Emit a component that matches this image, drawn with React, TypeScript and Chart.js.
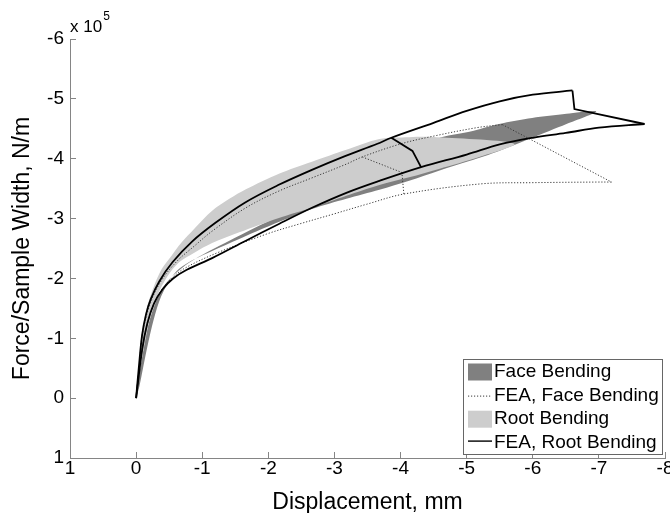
import { useEffect, useRef } from "react";
import { Chart, registerables } from "chart.js";

Chart.register(...registerables);

// ---------- axis / text content ----------
const xMin = -8;
const xMax = 1;
const yMin = -6;
const yMax = 1;
const xTitle = "Displacement, mm";
const yTitle = "Force/Sample Width, N/m";
const exponentBase = "x 10";
const exponentPower = "5";
const legendLabels = ["Face Bending", "FEA, Face Bending", "Root Bending", "FEA, Root Bending"];

// ---------- Face Bending experimental envelope (x: mm, y: x10^5 N/m) ----------
const faceBandX = [0, -0.08, -0.2, -0.42, -0.8, -1.41, -2.16, -3.07, -3.98, -4.55, -5.04, -5.49, -5.99, -6.51, -6.96,
  -6.51, -5.99, -5.49, -5.04, -4.58, -4.13, -3.68, -3.18, -2.66, -2.31, -1.91, -1.56, -1.15, -0.88, -0.65, -0.5, -0.35, -0.24, -0.14, -0.05, 0];
const faceBandY = [0, -0.62, -1.29, -1.87, -2.26, -2.63, -3.04, -3.46, -3.91, -4.33, -4.45, -4.58, -4.68, -4.75, -4.79,
  -4.58, -4.35, -4.13, -3.96, -3.8, -3.63, -3.48, -3.33, -3.16, -3.01, -2.83, -2.66, -2.46, -2.32, -2.16, -1.96, -1.62, -1.2, -0.7, -0.2, 0];

// ---------- Root Bending experimental envelope ----------
const rootBandX = [0, -0.05, -0.09, -0.17, -0.27, -0.39, -0.53, -0.68, -0.88, -1.15, -1.41, -1.66, -2.16, -2.66, -3.18, -3.68, -4.13, -4.55, -5.72,
  -5.19, -4.58, -4.13, -3.68, -3.18, -2.66, -2.16, -1.56, -1.15, -0.88, -0.65, -0.47, -0.32, -0.2, -0.11, -0.03, 0];
const rootBandY = [0, -0.62, -1.12, -1.54, -1.87, -2.16, -2.37, -2.59, -2.83, -3.13, -3.33, -3.49, -3.75, -3.95, -4.15, -4.33, -4.36, -4.36, -4.25,
  -4.03, -3.83, -3.69, -3.56, -3.38, -3.18, -3.01, -2.77, -2.59, -2.43, -2.27, -2.03, -1.71, -1.29, -0.79, -0.28, 0];

// ---------- FEA, Face Bending (dotted) ----------
const faceFeaUpperX = [0, -0.05, -0.09, -0.21, -0.38, -0.62, -0.88, -1.15, -1.66, -2.16, -2.66, -3.18, -3.42, -4.01, -4.51, -5.16, -5.54];
const faceFeaUpperY = [0, -0.55, -1.04, -1.57, -1.96, -2.29, -2.54, -2.79, -3.18, -3.46, -3.68, -3.91, -4.03, -4.25, -4.38, -4.52, -4.57];
const faceFeaDropX = [-5.54, -7.19];
const faceFeaDropY = [-4.57, -3.61];
const faceFeaLowerX = [-7.19, -6.97, -6.02, -5.22, -4.05, -3.49, -3.0, -2.47, -1.97, -1.21, -0.72, -0.52, -0.38, -0.26, -0.16, -0.08, 0];
const faceFeaLowerY = [-3.61, -3.61, -3.6, -3.58, -3.41, -3.24, -3.08, -2.91, -2.74, -2.42, -2.16, -1.98, -1.8, -1.55, -1.2, -0.75, 0];
const faceFeaCrossX = [-3.42, -4.02, -4.05];
const faceFeaCrossY = [-4.03, -3.77, -3.41];

// ---------- FEA, Root Bending (solid) ----------
const rootFeaUpperX = [0, -0.04, -0.09, -0.15, -0.22, -0.35, -0.55, -0.85, -1.2, -1.65, -2.15, -2.65, -3.15, -3.65, -3.86, -4.5, -5.0, -5.5, -6.0, -6.6];
const rootFeaUpperY = [0, -0.5, -1.05, -1.4, -1.65, -1.95, -2.27, -2.62, -2.93, -3.27, -3.56, -3.81, -4.04, -4.25, -4.35, -4.6, -4.8, -4.96, -5.07, -5.14];
const rootFeaDropX = [-6.6, -6.63, -7.69];
const rootFeaDropY = [-5.14, -4.83, -4.58];
const rootFeaLowerX = [-7.69, -7.0, -6.5, -6.0, -5.5, -5.0, -4.31, -3.68, -3.18, -2.66, -2.16, -1.66, -1.15, -0.76, -0.56, -0.4, -0.27, -0.17, -0.09, 0];
const rootFeaLowerY = [-4.58, -4.52, -4.43, -4.35, -4.24, -4.07, -3.86, -3.63, -3.43, -3.18, -2.91, -2.63, -2.34, -2.14, -2.0, -1.82, -1.58, -1.25, -0.8, 0];
const rootFeaCrossX = [-3.86, -4.18, -4.31];
const rootFeaCrossY = [-4.35, -4.13, -3.86];

const FONT = '"Liberation Sans", Arial, Helvetica, sans-serif';
const DARK = "#808080";
const LIGHT = "#cdcdcd";
const AXIS = "#858585";

const pts = (xs: number[], ys: number[]) => xs.map((x, i) => ({ x, y: ys[i] }));

const band = (xs: number[], ys: number[], color: string, order: number) => ({
  data: pts(xs, ys),
  fill: "shape",
  backgroundColor: color,
  borderColor: "rgba(0,0,0,0)",
  borderWidth: 0,
  pointRadius: 0,
  tension: 0.3,
  order,
});

const dotted = (xs: number[], ys: number[], tension: number) => ({
  data: pts(xs, ys),
  fill: false,
  borderColor: "#3a3a3a",
  borderWidth: 1,
  borderDash: [1.2, 1.8],
  pointRadius: 0,
  tension,
  order: 3,
});

const solid = (xs: number[], ys: number[], tension: number) => ({
  data: pts(xs, ys),
  fill: false,
  borderColor: "#000000",
  borderWidth: 1.8,
  pointRadius: 0,
  tension,
  order: 1,
});

const overlayPlugin = {
  id: "overlay",
  afterDraw(chart: any) {
    const ctx = chart.ctx;
    ctx.save();
    // exponent label
    ctx.fillStyle = "#000";
    ctx.textBaseline = "alphabetic";
    ctx.textAlign = "left";
    ctx.font = `17px ${FONT}`;
    ctx.fillText(exponentBase, 70, 32);
    const w = ctx.measureText(exponentBase).width;
    ctx.font = `12px ${FONT}`;
    ctx.fillText(exponentPower, 70 + w + 1, 20);

    // legend
    const bx = 463.5, by = 359.5, bw = 199, bh = 95;
    ctx.fillStyle = "#ffffff";
    ctx.fillRect(bx, by, bw, bh);
    ctx.strokeStyle = "#666666";
    ctx.lineWidth = 1;
    ctx.strokeRect(bx, by, bw, bh);
    const rows = [372, 395.6, 419.2, 442.6];
    const sx0 = 468, sx1 = 492, tx = 494;
    ctx.fillStyle = DARK;
    ctx.fillRect(sx0, rows[0] - 8.5, sx1 - sx0, 17);
    ctx.fillStyle = LIGHT;
    ctx.fillRect(sx0, rows[2] - 8.5, sx1 - sx0, 17);
    ctx.beginPath();
    ctx.setLineDash([1.2, 1.8]);
    ctx.strokeStyle = "#3a3a3a";
    ctx.moveTo(sx0, rows[1] + 0.5);
    ctx.lineTo(sx1, rows[1] + 0.5);
    ctx.stroke();
    ctx.setLineDash([]);
    ctx.beginPath();
    ctx.strokeStyle = "#000";
    ctx.lineWidth = 1.4;
    ctx.moveTo(sx0, rows[3] - 1.5);
    ctx.lineTo(sx1, rows[3] - 1.5);
    ctx.stroke();
    ctx.fillStyle = "#000";
    ctx.font = `19px ${FONT}`;
    ctx.textBaseline = "middle";
    legendLabels.forEach((t, i) => ctx.fillText(t, tx, rows[i]));
    ctx.restore();
  },
};

export default function App() {
  const ref = useRef<HTMLCanvasElement | null>(null);

  useEffect(() => {
    document.body.style.margin = "0";
    document.body.style.overflow = "hidden";
    const canvas = ref.current;
    if (!canvas) return;
    const chart = new Chart(canvas, {
      type: "line",
      data: {
        datasets: [
          band(faceBandX, faceBandY, DARK, 10),
          band(rootBandX, rootBandY, LIGHT, 9),
          dotted(faceFeaUpperX, faceFeaUpperY, 0.35),
          dotted(faceFeaDropX, faceFeaDropY, 0),
          dotted(faceFeaLowerX, faceFeaLowerY, 0.35),
          dotted(faceFeaCrossX, faceFeaCrossY, 0),
          solid(rootFeaUpperX, rootFeaUpperY, 0.35),
          solid(rootFeaDropX, rootFeaDropY, 0),
          solid(rootFeaLowerX, rootFeaLowerY, 0.35),
          solid(rootFeaCrossX, rootFeaCrossY, 0),
        ] as any,
      },
      options: {
        animation: false,
        responsive: false,
        maintainAspectRatio: false,
        events: [],
        layout: { padding: { left: 0, right: 5, top: 39, bottom: 0 } },
        plugins: { legend: { display: false }, tooltip: { enabled: false } },
        scales: {
          x: {
            type: "linear",
            min: xMin,
            max: xMax,
            reverse: true,
            position: "bottom",
            ticks: {
              stepSize: 1,
              autoSkip: false,
              maxRotation: 0,
              padding: 5,
              color: "#000",
              font: { family: FONT, size: 19 },
              callback: (v: any) => String(v),
            },
            grid: { drawOnChartArea: false, drawTicks: true, tickLength: -6, color: AXIS, lineWidth: 1 },
            border: { display: true, color: AXIS, width: 1 },
            title: {
              display: true,
              text: xTitle,
              color: "#000",
              font: { family: FONT, size: 23 },
              padding: { top: 0, bottom: -3 },
            },
            afterFit: (s: any) => {
              s.height = 55;
              s.paddingLeft = 0;
              s.paddingRight = 0;
            },
          },
          y: {
            type: "linear",
            min: yMin,
            max: yMax,
            reverse: true,
            position: "left",
            ticks: {
              stepSize: 1,
              autoSkip: false,
              padding: 12,
              color: "#000",
              font: { family: FONT, size: 19 },
              callback: (v: any) => String(v),
            },
            grid: { drawOnChartArea: false, drawTicks: true, tickLength: -6, color: AXIS, lineWidth: 1 },
            border: { display: true, color: AXIS, width: 1 },
            title: {
              display: true,
              text: yTitle,
              color: "#000",
              font: { family: FONT, size: 23 },
              padding: { top: 9, bottom: 0 },
            },
            afterFit: (s: any) => {
              s.width = 70;
              s.paddingTop = 0;
              s.paddingBottom = 0;
            },
          },
        },
      } as any,
      plugins: [overlayPlugin],
    });
    return () => chart.destroy();
  }, []);

  return (
    <div style={{ width: 670, height: 513, background: "#fff" }}>
      <canvas ref={ref} width={670} height={513} style={{ display: "block" }} />
    </div>
  );
}
